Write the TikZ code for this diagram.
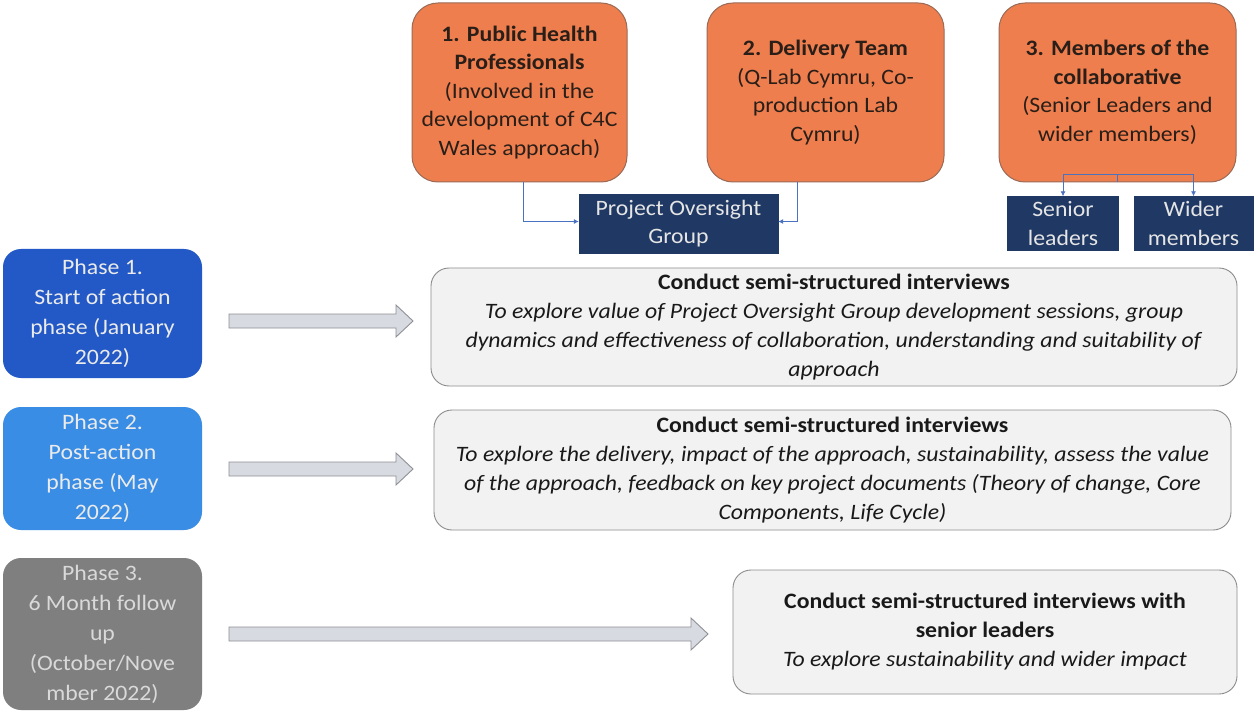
\documentclass[tikz,border=0pt]{standalone}
\usepackage{fontspec}
\setmainfont{Carlito}[FakeStretch=1.08]
\usetikzlibrary{arrows.meta}
\definecolor{orangeF}{HTML}{EE7E4E}
\definecolor{orangeD}{HTML}{9A6A55}
\definecolor{navy}{HTML}{203864}
\definecolor{phaseA}{HTML}{2359C6}
\definecolor{phaseB}{HTML}{3A8DE4}
\definecolor{phaseC}{HTML}{7F7F7F}
\definecolor{lightF}{HTML}{F2F2F2}
\definecolor{lightD}{HTML}{8C8C8C}
\definecolor{connC}{HTML}{4A72C0}
\definecolor{arrF}{HTML}{D7DAE0}
\definecolor{arrD}{HTML}{8E9096}
\definecolor{darkT}{HTML}{2A1E18}
\newcommand\blockarr[3]{%
  \draw[barrow] (#1,#3-7) -- (#2-17,#3-7) -- (#2-17,#3-16) -- (#2,#3) -- (#2-17,#3+16) -- (#2-17,#3+7) -- (#1,#3+7) -- cycle;}
\begin{document}
\begin{tikzpicture}[x=1pt,y=-1pt,
  base/.style={font=\fontsize{22}{28.5}\selectfont, align=center, inner sep=0pt},
  orangebox/.style={base, fill=orangeF, draw=orangeD, line width=1pt, rounded corners=26pt, text=darkT},
  navybox/.style={base, fill=navy, draw=navy, text=white!90!black},
  phasebox/.style={base, rounded corners=18pt, text=white!92!black, font=\fontsize{22}{30}\selectfont},
  infobox/.style={base, fill=lightF, draw=lightD, line width=0.9pt, rounded corners=18pt, text=black!90, font=\fontsize{22}{29}\selectfont},
  conn/.style={draw=connC, line width=0.8pt, -{Latex[length=5pt,width=5pt]}},
  barrow/.style={fill=arrF, draw=arrD, line width=0.9pt, line join=miter}
]
\useasboundingbox (0,0) rectangle (1255,711);
\fill[white] (0,0) rectangle (1255,711);

% top orange boxes
\node[orangebox, minimum width=215, minimum height=179] (b1) at (519.5,92.5)
  {\textbf{1. Public Health}\\ \textbf{Professionals}\\ (Involved in the\\ development of C4C\\ Wales approach)};
\node[orangebox, minimum width=237, minimum height=179] (b2) at (825.5,92.5)
  {\textbf{2. Delivery Team}\\ (Q-Lab Cymru, Co-\\ production Lab\\ Cymru)};
\node[orangebox, minimum width=237, minimum height=179] (b3) at (1117.5,92.5)
  {\textbf{3. Members of the}\\ \textbf{collaborative}\\ (Senior Leaders and\\ wider members)};

% navy boxes
\node[navybox, minimum width=199, minimum height=59] (pog) at (678.5,223.5) {Project Oversight\\ Group};
\node[navybox, minimum width=111, minimum height=54] (sl) at (1063,223.5) {Senior\\ leaders};
\node[navybox, minimum width=119, minimum height=54] (wm) at (1193.5,223.5) {Wider\\ members};

% connectors
\draw[conn] ([xshift=4]b1.south) |- ([yshift=2]pog.west);
\draw[conn] ([xshift=-28]b2.south) |- ([yshift=2]pog.east);
\coordinate (split) at ([yshift=8]b3.south);
\draw[draw=connC, line width=0.8pt] (b3.south) -- (split);
\draw[conn] (split) -| (sl.north);
\draw[conn] (split) -| (wm.north);

% phase boxes
\node[phasebox, fill=phaseA, minimum width=199, minimum height=129] (p1) at (102.5,313.5)
  {Phase 1.\\ Start of action\\ phase (January\\ 2022)};
\node[phasebox, fill=phaseB, minimum width=199, minimum height=123] (p2) at (102.5,468.5)
  {Phase 2.\\ Post-action\\ phase (May\\ 2022)};
\node[phasebox, fill=phaseC, minimum width=199, minimum height=152, text=white!85!black] (p3) at (102.5,634)
  {Phase 3.\\ 6 Month follow\\ up\\ (October/Nove\\ mber 2022)};

% info boxes
\node[infobox, minimum width=806, minimum height=118] (rA) at (834,327)
  {\textbf{Conduct semi-structured interviews}\\
   \textit{To explore value of Project Oversight Group development sessions, group}\\
   \textit{dynamics and effectiveness of collaboration, understanding and suitability of}\\
   \textit{approach}};
\node[infobox, minimum width=797, minimum height=120] (rB) at (832.5,470)
  {\textbf{Conduct semi-structured interviews}\\
   \textit{To explore the delivery, impact of the approach, sustainability, assess the value}\\
   \textit{of the approach, feedback on key project documents (Theory of change, Core}\\
   \textit{Components, Life Cycle)}};
\node[infobox, minimum width=504, minimum height=124] (rC) at (985,632)
  {\textbf{Conduct semi-structured interviews with}\\
   \textbf{senior leaders}\\
   \textit{To explore sustainability and wider impact}};

% block arrows
\blockarr{229}{413}{321}
\blockarr{229}{413}{469}
\blockarr{229}{708}{634}
\end{tikzpicture}
\end{document}
